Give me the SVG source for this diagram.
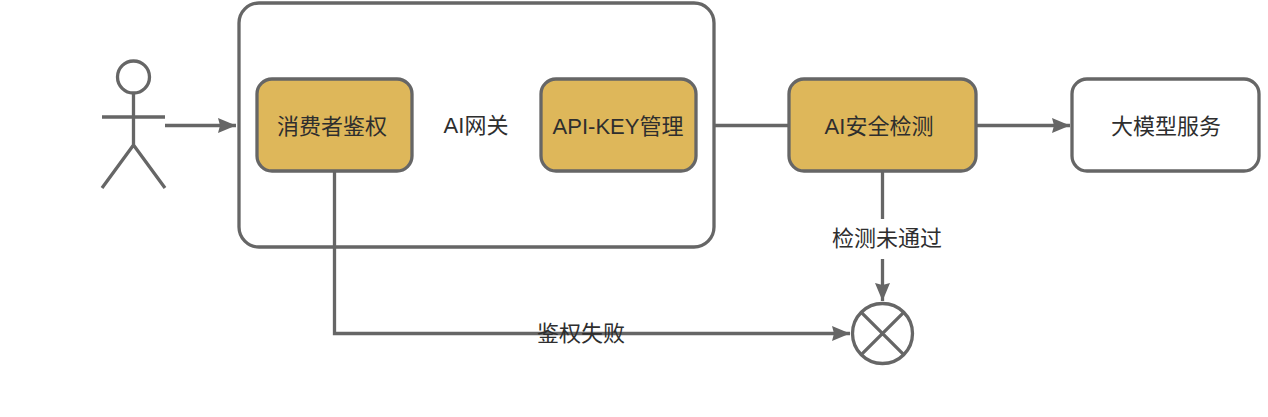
<svg xmlns="http://www.w3.org/2000/svg" width="1268" height="417" viewBox="0 0 1268 417">
<style>
.s{stroke:#666;stroke-width:3.300;fill:none}
.box{stroke:#666;stroke-width:3.300}
.y{fill:#deb75a}
.w{fill:#fff}
.c{stroke:#666;stroke-width:3.300;fill:none}
text{font-family:"Liberation Sans","Noto Sans CJK SC",sans-serif;font-size:22px;fill:#2e2e2e;text-anchor:middle}
</style>
<defs><marker id="a" markerUnits="userSpaceOnUse" markerWidth="20" markerHeight="18" refX="18" refY="9" orient="auto"><path d="M0 1.500L18 9L0 16.500L2 9Z" fill="#666"/></marker></defs>
<rect width="1268" height="417" fill="#fff"/>
<g id="gateway"><rect class="box w" x="239" y="3" width="475" height="244" rx="20"/><text x="476" y="133">AI网关</text></g>
<g id="connectors">
<path class="c" d="M165 125.500H236" marker-end="url(#a)"/>
<path class="c" d="M714 125.500H789"/>
<path class="c" d="M976 125.500H1070" marker-end="url(#a)"/>
<path class="c" d="M334.500 171V333.500H850" marker-end="url(#a)"/>
<path class="c" d="M882.500 171V219"/>
<path class="c" d="M882.500 259V301" marker-end="url(#a)"/>
</g>
<g id="actor"><circle class="s" cx="133.500" cy="77" r="16"/><path class="s" d="M133.500 93V145M102 117H165M133.500 145L102 188M133.500 145L165 188"/></g>
<g id="auth"><rect class="box y" x="257" y="79" width="155" height="92" rx="15"/><text x="332" y="134">消费者鉴权</text></g>
<g id="apikey"><rect class="box y" x="541" y="79" width="155" height="92" rx="15"/><text x="618" y="134">API-KEY管理</text></g>
<g id="safety"><rect class="box y" x="789" y="79" width="187" height="92" rx="15"/><text x="879" y="134">AI安全检测</text></g>
<g id="model"><rect class="box w" x="1072" y="79" width="187" height="92" rx="15"/><text x="1166" y="134">大模型服务</text></g>
<g id="deny"><circle class="box w" cx="882.500" cy="333.500" r="30"/><path class="s" d="M861.300 312.300L903.700 354.700M903.700 312.300L861.300 354.700"/></g>
<g id="labels"><text x="887" y="246">检测未通过</text><text x="581" y="341">鉴权失败</text></g>
</svg>
